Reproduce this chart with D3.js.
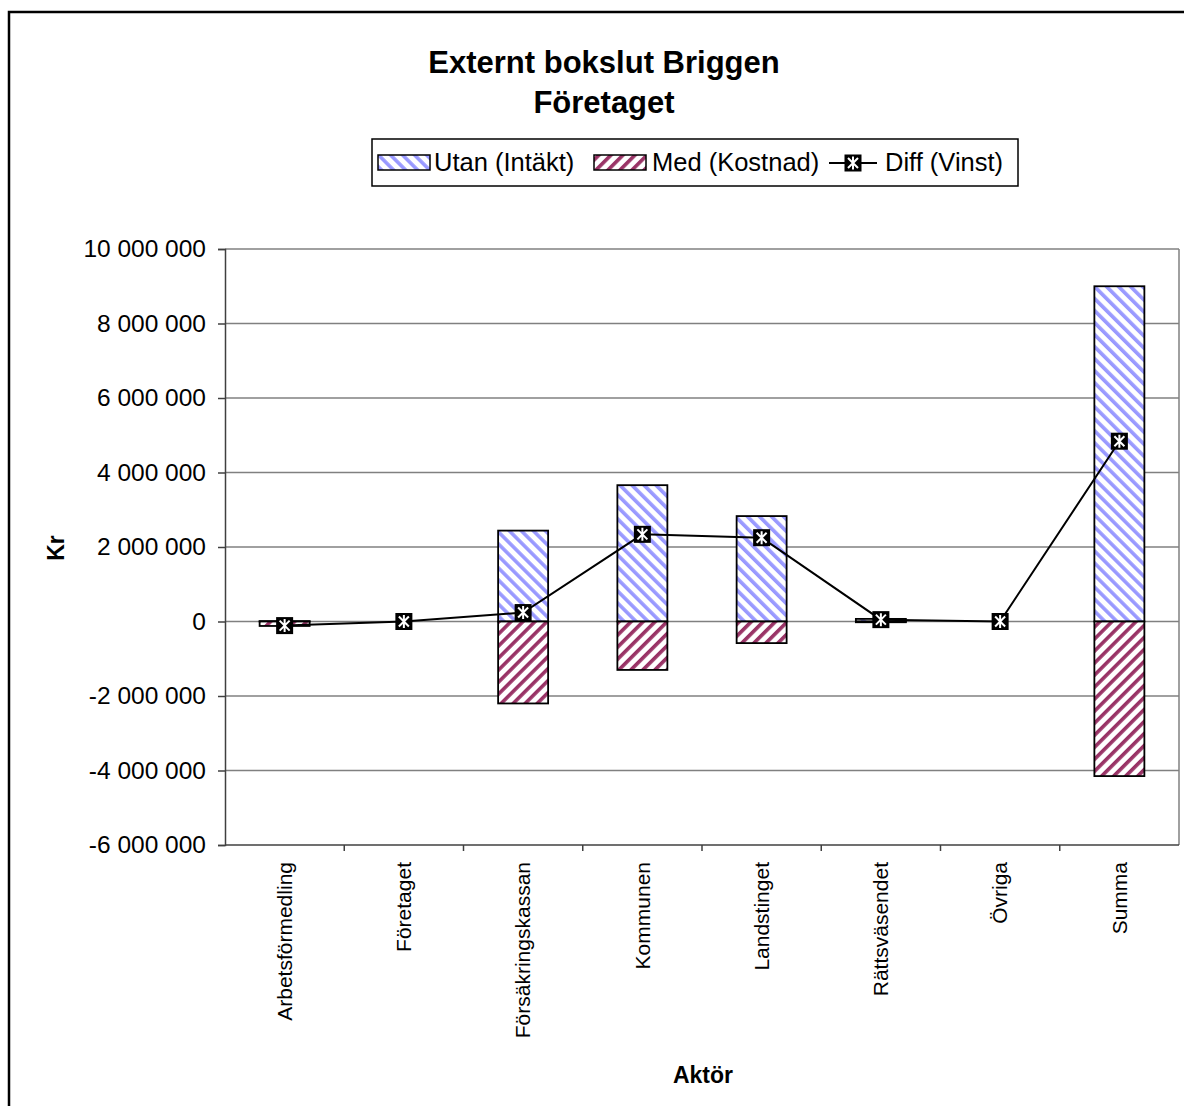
<!DOCTYPE html>
<html lang="sv">
  <head>
    <meta charset="UTF-8" />
    <title>Externt bokslut Briggen</title>
    <style>
      body {
        margin: 0;
        background: #fff;
      }
      text {
        font-family: "Liberation Sans", Arial, sans-serif;
        fill: #000;
      }
    </style>
  </head>
  <body>
    <div class="container"></div>

    <script src="https://d3js.org/d3.v7.min.js"></script>
    <script>
      // data
      const categories = [
        "Arbetsförmedling",
        "Företaget",
        "Försäkringskassan",
        "Kommunen",
        "Landstinget",
        "Rättsväsendet",
        "Övriga",
        "Summa",
      ];
      const utan = [10000, 0, 2440000, 3660000, 2830000, 70000, 0, 9000000]; // Intäkt
      const med = [-120000, 0, -2200000, -1300000, -580000, -20000, 0, -4150000]; // Kostnad
      const diff = [-110000, 0, 240000, 2340000, 2250000, 50000, 0, 4840000]; // Vinst
      const yTicks = [-6e6, -4e6, -2e6, 0, 2e6, 4e6, 6e6, 8e6, 1e7];

      const W = 1184,
        H = 1106;
      const plot = { left: 225, right: 1179, top: 249, bottom: 845 };

      const svg = d3
        .select(".container")
        .append("svg")
        .attr("width", W)
        .attr("height", H);

      // mönster för staplarna
      const defs = svg.append("defs");
      function stripes(id, color, angle) {
        const p = defs
          .append("pattern")
          .attr("id", id)
          .attr("patternUnits", "userSpaceOnUse")
          .attr("width", 8.5)
          .attr("height", 8.5)
          .attr("patternTransform", `rotate(${angle})`);
        p.append("rect").attr("width", 8.5).attr("height", 8.5).attr("fill", "#fff");
        p.append("rect").attr("width", 3.6).attr("height", 8.5).attr("fill", color);
      }
      stripes("blue", "#9999ff", -45);
      stripes("red", "#993366", 45);

      // ram
      svg
        .append("rect")
        .attr("x", 9)
        .attr("y", 12)
        .attr("width", 1300)
        .attr("height", 1300)
        .attr("fill", "none")
        .attr("stroke", "#000")
        .attr("stroke-width", 2.5);

      // skalor
      const x = d3
        .scaleBand()
        .domain(categories)
        .range([plot.left, plot.right]);
      const y = d3
        .scaleLinear()
        .domain([-6e6, 1e7])
        .range([plot.bottom, plot.top]);

      const sv = d3.formatLocale({
        decimal: ",",
        thousands: " ",
        grouping: [3],
        currency: ["", " kr"],
        minus: "-",
      });
      const fmt = sv.format(",d");

      // rutnät
      svg
        .append("g")
        .selectAll("line")
        .data(yTicks.filter((d) => d > -6e6))
        .join("line")
        .attr("x1", plot.left)
        .attr("x2", plot.right)
        .attr("y1", (d) => y(d))
        .attr("y2", (d) => y(d))
        .attr("stroke", "#808080")
        .attr("stroke-width", 1.5);

      // höger kant
      svg
        .append("line")
        .attr("x1", plot.right)
        .attr("x2", plot.right)
        .attr("y1", plot.top)
        .attr("y2", plot.bottom)
        .attr("stroke", "#808080")
        .attr("stroke-width", 1.5);

      // staplar
      const barW = 50;
      const bars = svg.append("g");
      bars
        .selectAll("rect.utan")
        .data(utan)
        .join("rect")
        .attr("class", "utan")
        .attr("x", (d, i) => x(categories[i]) + x.bandwidth() / 2 - barW / 2)
        .attr("y", (d) => y(d))
        .attr("width", barW)
        .attr("height", (d) => y(0) - y(d))
        .attr("fill", "url(#blue)")
        .attr("stroke", (d) => (d ? "#000" : "none"))
        .attr("stroke-width", 1.8);
      bars
        .selectAll("rect.med")
        .data(med)
        .join("rect")
        .attr("class", "med")
        .attr("x", (d, i) => x(categories[i]) + x.bandwidth() / 2 - barW / 2)
        .attr("y", y(0))
        .attr("width", barW)
        .attr("height", (d) => y(d) - y(0))
        .attr("fill", "url(#red)")
        .attr("stroke", (d) => (d ? "#000" : "none"))
        .attr("stroke-width", 1.8);

      // y-axel
      const yAxis = svg
        .append("g")
        .attr("transform", `translate(${plot.left},0)`)
        .call(
          d3.axisLeft(y).tickValues(yTicks).tickSize(7).tickPadding(12).tickFormat(fmt)
        );
      yAxis.select(".domain").attr("stroke", "#404040").attr("stroke-width", 1.5);
      yAxis.selectAll(".tick line").attr("stroke", "#404040").attr("stroke-width", 1.5);
      yAxis
        .selectAll(".tick text")
        .attr("font-size", 24.5)
        .attr("font-family", "Liberation Sans, Arial, sans-serif")
        .attr("fill", "#000");

      // x-axel
      const xAxis = svg.append("g").attr("transform", `translate(0,${plot.bottom})`);
      xAxis
        .append("line")
        .attr("x1", plot.left)
        .attr("x2", plot.right)
        .attr("stroke", "#404040")
        .attr("stroke-width", 1.5);
      xAxis
        .selectAll("line.tk")
        .data(categories.slice(1))
        .join("line")
        .attr("class", "tk")
        .attr("x1", (d) => x(d))
        .attr("x2", (d) => x(d))
        .attr("y2", 6)
        .attr("stroke", "#404040")
        .attr("stroke-width", 1.5);
      xAxis
        .selectAll("text")
        .data(categories)
        .join("text")
        .attr(
          "transform",
          (d) => `translate(${x(d) + x.bandwidth() / 2},17) rotate(-90)`
        )
        .attr("text-anchor", "end")
        .attr("dy", "0.35em")
        .attr("font-size", 21)
        .text((d) => d);

      // linje för Diff
      const line = d3
        .line()
        .x((d, i) => x(categories[i]) + x.bandwidth() / 2)
        .y((d) => y(d));
      svg
        .append("path")
        .attr("d", line(diff))
        .attr("fill", "none")
        .attr("stroke", "#000")
        .attr("stroke-width", 2);

      function marker(g) {
        g.append("rect")
          .attr("x", -8.5)
          .attr("y", -8.5)
          .attr("width", 17)
          .attr("height", 17)
          .attr("fill", "#000");
        g.append("path")
          .attr("d", "M-5,-5L5,5M-5,5L5,-5M0,-6.5L0,6.5")
          .attr("stroke", "#fff")
          .attr("stroke-width", 2);
      }
      svg
        .append("g")
        .selectAll("g")
        .data(diff)
        .join("g")
        .attr(
          "transform",
          (d, i) => `translate(${x(categories[i]) + x.bandwidth() / 2},${y(d)})`
        )
        .each(function () {
          marker(d3.select(this));
        });

      // titlar
      svg
        .append("text")
        .attr("x", 604)
        .attr("y", 73)
        .attr("text-anchor", "middle")
        .attr("font-size", 31)
        .attr("font-weight", "bold")
        .text("Externt bokslut Briggen");
      svg
        .append("text")
        .attr("x", 604)
        .attr("y", 113)
        .attr("text-anchor", "middle")
        .attr("font-size", 31)
        .attr("font-weight", "bold")
        .text("Företaget");
      svg
        .append("text")
        .attr("transform", "translate(64,548) rotate(-90)")
        .attr("text-anchor", "middle")
        .attr("font-size", 23)
        .attr("font-weight", "bold")
        .text("Kr");
      svg
        .append("text")
        .attr("x", 703)
        .attr("y", 1083)
        .attr("text-anchor", "middle")
        .attr("font-size", 23)
        .attr("font-weight", "bold")
        .text("Aktör");

      // legend
      const leg = svg.append("g").attr("transform", "translate(372,139)");
      leg
        .append("rect")
        .attr("width", 646)
        .attr("height", 47)
        .attr("fill", "#fff")
        .attr("stroke", "#000")
        .attr("stroke-width", 1.5);
      leg
        .append("rect")
        .attr("x", 6)
        .attr("y", 16)
        .attr("width", 52)
        .attr("height", 15)
        .attr("fill", "url(#blue)")
        .attr("stroke", "#000")
        .attr("stroke-width", 1.5);
      leg
        .append("text")
        .attr("x", 62)
        .attr("y", 32)
        .attr("font-size", 25.5)
        .text("Utan (Intäkt)");
      leg
        .append("rect")
        .attr("x", 222)
        .attr("y", 16)
        .attr("width", 52)
        .attr("height", 15)
        .attr("fill", "url(#red)")
        .attr("stroke", "#000")
        .attr("stroke-width", 1.5);
      leg
        .append("text")
        .attr("x", 280)
        .attr("y", 32)
        .attr("font-size", 25.5)
        .text("Med (Kostnad)");
      leg
        .append("line")
        .attr("x1", 457)
        .attr("x2", 505)
        .attr("y1", 24)
        .attr("y2", 24)
        .attr("stroke", "#000")
        .attr("stroke-width", 2);
      marker(leg.append("g").attr("transform", "translate(481,24)"));
      leg
        .append("text")
        .attr("x", 513)
        .attr("y", 32)
        .attr("font-size", 25.5)
        .text("Diff (Vinst)");
    </script>
  </body>
</html>
